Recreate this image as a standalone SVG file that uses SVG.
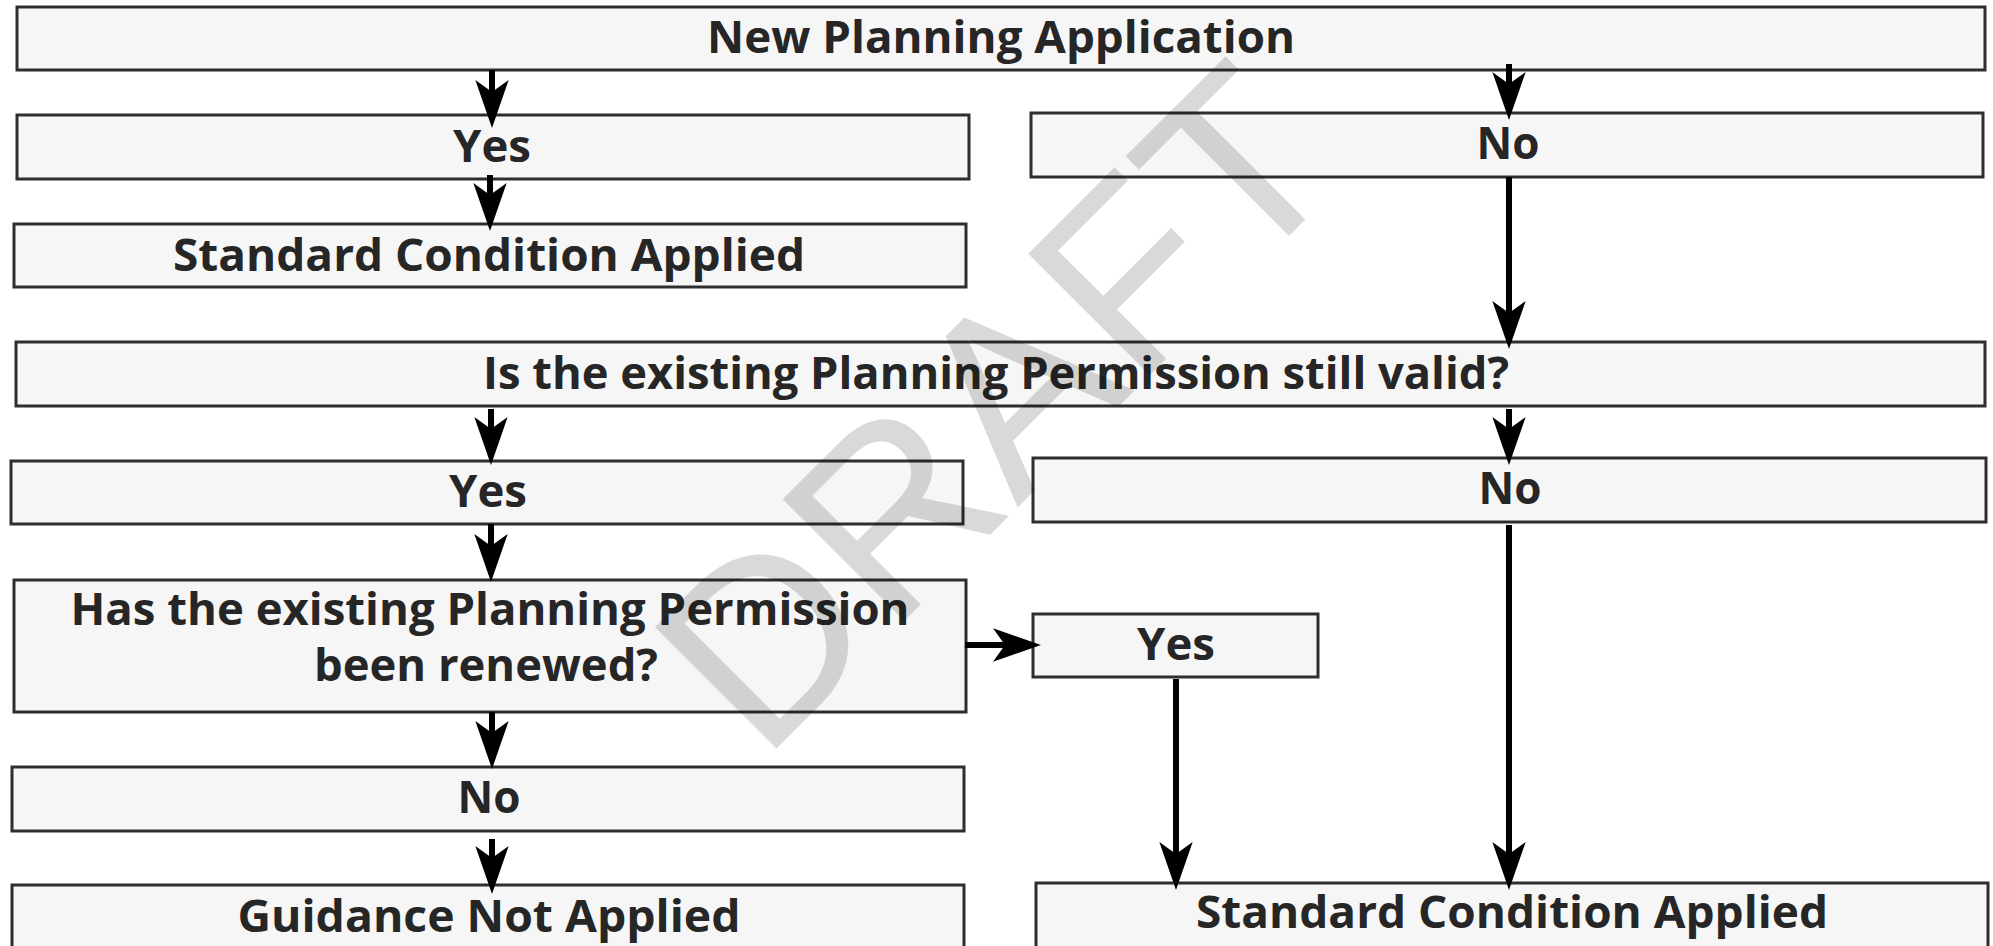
<svg xmlns="http://www.w3.org/2000/svg" width="1993" height="946" viewBox="0 0 1993 946">
<style>
.box{fill:#f6f6f6;stroke:#2e2e2e;stroke-width:3}
.lbl{font-family:"Open Sans",Lato,"Liberation Sans",sans-serif;font-weight:700;font-size:44px;fill:#262626;text-anchor:middle}
.con{stroke:#000;stroke-width:6;fill:none}
.wm{font-family:"Liberation Sans",Arial,sans-serif;font-size:250px;fill:#000;fill-opacity:0.15}
</style>
<defs>
<marker id="ah" markerUnits="userSpaceOnUse" markerWidth="60" markerHeight="40" refX="0" refY="0" viewBox="-12 -15 44 30" orient="auto" overflow="visible">
<path d="M0,0 L-9,-12.5 L27,0 L-9,12.5 Z" fill="#000"/>
</marker>
</defs>
<rect width="1993" height="946" fill="#fff"/>
<g id="n1"><rect class="box" x="17" y="7" width="1968" height="63"/><text class="lbl" x="1001" y="53" textLength="588" lengthAdjust="spacingAndGlyphs">New Planning Application</text></g>
<g id="n2"><rect class="box" x="17" y="115" width="952" height="64"/><text class="lbl" x="492" y="162" textLength="78" lengthAdjust="spacingAndGlyphs">Yes</text></g>
<g id="n3"><rect class="box" x="1031" y="113" width="952" height="64"/><text class="lbl" x="1508" y="159" textLength="63" lengthAdjust="spacingAndGlyphs">No</text></g>
<g id="n4"><rect class="box" x="14" y="224" width="952" height="63"/><text class="lbl" x="489" y="271" textLength="632" lengthAdjust="spacingAndGlyphs">Standard Condition Applied</text></g>
<g id="n5"><rect class="box" x="16" y="342" width="1969" height="64"/><text class="lbl" x="996" y="389" textLength="1026" lengthAdjust="spacingAndGlyphs">Is the existing Planning Permission still valid?</text></g>
<g id="n6"><rect class="box" x="11" y="461" width="952" height="63"/><text class="lbl" x="488" y="507" textLength="78" lengthAdjust="spacingAndGlyphs">Yes</text></g>
<g id="n7"><rect class="box" x="1033" y="458" width="953" height="64"/><text class="lbl" x="1510" y="504" textLength="63" lengthAdjust="spacingAndGlyphs">No</text></g>
<g id="n8"><rect class="box" x="14" y="580" width="952" height="132"/><text class="lbl" x="490" y="625" textLength="839" lengthAdjust="spacingAndGlyphs">Has the existing Planning Permission</text><text class="lbl" x="486" y="681" textLength="344" lengthAdjust="spacingAndGlyphs">been renewed?</text></g>
<g id="n9"><rect class="box" x="1033" y="614" width="285" height="63"/><text class="lbl" x="1176" y="660" textLength="78" lengthAdjust="spacingAndGlyphs">Yes</text></g>
<g id="n10"><rect class="box" x="12" y="767" width="952" height="64"/><text class="lbl" x="489" y="813" textLength="63" lengthAdjust="spacingAndGlyphs">No</text></g>
<g id="n11"><rect class="box" x="12" y="885" width="952" height="66"/><text class="lbl" x="489" y="932" textLength="503" lengthAdjust="spacingAndGlyphs">Guidance Not Applied</text></g>
<g id="n12"><rect class="box" x="1036" y="883" width="952" height="66"/><text class="lbl" x="1512" y="928" textLength="632" lengthAdjust="spacingAndGlyphs">Standard Condition Applied</text></g>
<g id="connectors">
<line class="con" x1="492" y1="70" x2="492" y2="92" marker-end="url(#ah)"/>
<line class="con" x1="490" y1="175" x2="490" y2="195" marker-end="url(#ah)"/>
<line class="con" x1="1509" y1="64" x2="1509" y2="84" marker-end="url(#ah)"/>
<line class="con" x1="1509" y1="177" x2="1509" y2="313" marker-end="url(#ah)"/>
<line class="con" x1="491" y1="409" x2="491" y2="429" marker-end="url(#ah)"/>
<line class="con" x1="1509" y1="409" x2="1509" y2="429" marker-end="url(#ah)"/>
<line class="con" x1="491" y1="524" x2="491" y2="546" marker-end="url(#ah)"/>
<line class="con" x1="965" y1="645" x2="1005" y2="645" marker-end="url(#ah)"/>
<line class="con" x1="492" y1="712" x2="492" y2="733" marker-end="url(#ah)"/>
<line class="con" x1="492" y1="839" x2="492" y2="858" marker-end="url(#ah)"/>
<line class="con" x1="1176" y1="679" x2="1176" y2="854" marker-end="url(#ah)"/>
<line class="con" x1="1509" y1="525" x2="1509" y2="854" marker-end="url(#ah)"/>
</g>
<text class="wm" transform="translate(762 763) rotate(-45)">DRAFT</text>
</svg>
